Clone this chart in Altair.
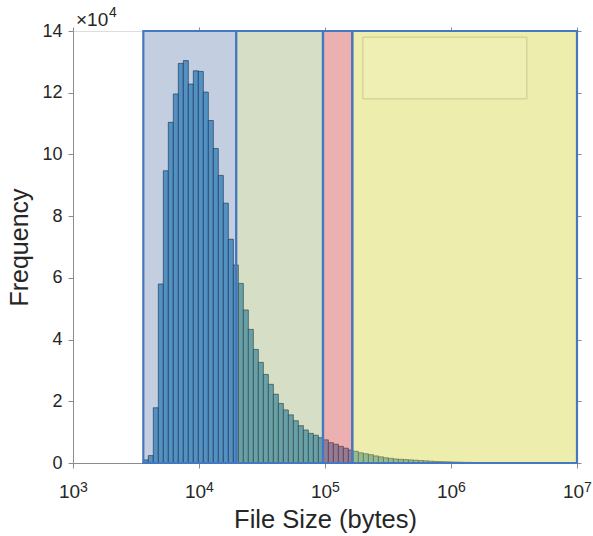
import altair as alt
import numpy as np
import pandas as pd

# Histogram: counts per logarithmic bin
freq = [1000, 2400, 17900, 58000, 94700, 110400, 119600, 129500, 130400, 122800,
        127100, 126900, 120200, 111000, 101900, 93200, 84200, 72500, 64200, 58200,
        49600, 43300, 36800, 32600, 28700, 25500, 22300, 19300, 17200, 15600,
        13700, 12100, 10700, 9600, 9000, 8200, 7500, 6600, 6100, 5400,
        4800, 4200, 3800, 3300, 3000, 2700, 2300, 2000, 1700, 1500,
        1300, 1200, 1100, 1000, 900, 800, 700, 600, 500, 450,
        400, 350, 300, 250, 200, 180, 150, 120, 100, 80,
        60, 50, 40, 30]
log_bin_start = 3.558
log_bin_width = 0.0397

# Shaded size classes (bytes)
region_names = ["Region 1", "Region 2", "Region 3", "Region 4"]
region_lo = [3615, 19700, 96400, 164700]
region_hi = [19700, 96400, 164700, 10000000]
region_colors = ["#29548f", "#6c8933", "#d23939", "#d2d232"]
region_alpha = [0.28, 0.28, 0.40, 0.40]

# Empty legend box
legend_x = [200000, 4000000]
legend_y = [118000, 138000]

x_ticks = [1000, 10000, 100000, 1000000, 10000000]
y_ticks = [0, 20000, 40000, 60000, 80000, 100000, 120000, 140000]

edges = 10 ** (log_bin_start + log_bin_width * np.arange(len(freq) + 1))
bars = pd.DataFrame({"lo": edges[:-1], "hi": edges[1:], "freq": freq, "zero": 0})
regions = pd.DataFrame({"name": region_names, "lo": region_lo, "hi": region_hi,
                        "alpha": region_alpha, "top": 140000, "zero": 0})
legend_df = pd.DataFrame({"x": [legend_x[0]], "x2": [legend_x[1]],
                          "y": [legend_y[0]], "y2": [legend_y[1]]})
corner = pd.DataFrame({"x": [1000], "y": [140000], "base": ["\u00d710"], "exp": ["4"]})

FONT = "Liberation Sans"
TXT = "#262626"
AX = "#8c8c8c"
xscale = alt.Scale(type="log", domain=[1000, 10000000], nice=False)
yscale = alt.Scale(domain=[0, 140000], nice=False, zero=True)

exp_expr = "'' + round(log(datum.value)/LN10)"

xaxis = alt.Axis(values=x_ticks, labelExpr="'10'", title="File Size (bytes)",
                 labelFont=FONT, labelFontSize=19, labelColor=TXT, labelOffset=-4,
                 titleFont=FONT, titleFontSize=25.5, titleFontWeight="normal",
                 titleColor=TXT, labelPadding=14, titlePadding=6,
                 tickSize=5, tickColor=AX, domainColor=AX,
                 grid=False, labelFlush=False)
yaxis = alt.Axis(values=y_ticks, labelExpr="datum.value/10000", title="Frequency",
                 labelFont=FONT, labelFontSize=18, labelColor=TXT,
                 titleFont=FONT, titleFontSize=25, titleFontWeight="normal",
                 titleColor=TXT, labelPadding=6, titlePadding=9,
                 tickSize=5, tickColor=AX, domainColor=AX,
                 grid=False)

bar_layer = alt.Chart(bars).mark_rect(
    fill="#66aad7", stroke="#10233a", strokeWidth=0.7, strokeOpacity=0.9
).encode(
    x=alt.X("lo:Q", scale=xscale, axis=xaxis),
    x2="hi:Q",
    y=alt.Y("freq:Q", scale=yscale, axis=yaxis),
    y2="zero:Q",
)

region_layer = alt.Chart(regions).mark_rect(
    stroke="#4677c2", strokeWidth=2.2
).encode(
    x=alt.X("lo:Q", scale=xscale,
            axis=alt.Axis(orient="top", values=x_ticks, labels=False, title=None,
                          domain=False, tickSize=4, tickColor=AX, grid=False)),
    x2="hi:Q",
    y=alt.Y("top:Q", scale=yscale,
            axis=alt.Axis(orient="right", values=y_ticks, labels=False, title=None,
                          domain=False, tickSize=4, tickColor=AX, grid=False)),
    y2="zero:Q",
    fill=alt.Fill("name:N", scale=alt.Scale(domain=region_names, range=region_colors),
                  legend=None),
    fillOpacity=alt.FillOpacity("alpha:Q", scale=None),
)

# exponent labels for the x ticks (superscripts) ride on this layer's axis
legend_layer = alt.Chart(legend_df).mark_rect(
    fill="#f4f4c4", fillOpacity=0.35, stroke="#c9c98f", strokeWidth=1
).encode(
    x=alt.X("x:Q", scale=xscale,
            axis=alt.Axis(orient="bottom", values=x_ticks, labelExpr=exp_expr,
                          title=None, domain=False, ticks=False, grid=False,
                          labelFont=FONT, labelFontSize=14, labelColor=TXT,
                          labelAlign="left", labelOffset=6.5,
                          labelPadding=17, labelFlush=False, offset=0)),
    x2="x2:Q",
    y=alt.Y("y:Q", scale=yscale, axis=None),
    y2="y2:Q",
)

base_txt = alt.Chart(corner).mark_text(
    align="left", baseline="alphabetic", font=FONT, fontSize=19, color=TXT,
    dx=3, dy=-5
).encode(
    x=alt.X("x:Q", scale=xscale, axis=None),
    y=alt.Y("y:Q", scale=yscale, axis=None),
    text="base:N",
)
exp_txt = alt.Chart(corner).mark_text(
    align="left", baseline="alphabetic", font=FONT, fontSize=14, color=TXT,
    dx=36, dy=-14
).encode(
    x=alt.X("x:Q", scale=xscale, axis=None),
    y=alt.Y("y:Q", scale=yscale, axis=None),
    text="exp:N",
)

chart = alt.layer(bar_layer, region_layer, legend_layer, base_txt, exp_txt).resolve_axis(
    x="independent", y="independent"
).properties(
    width=504,
    height=432,
    autosize=alt.AutoSizeParams(type="none"),
    padding={"left": 73, "top": 31, "right": 16, "bottom": 73},
).configure_view(stroke=None).configure(background="white")

chart.save("out.html", embed_options={"renderer": "svg", "actions": False})
